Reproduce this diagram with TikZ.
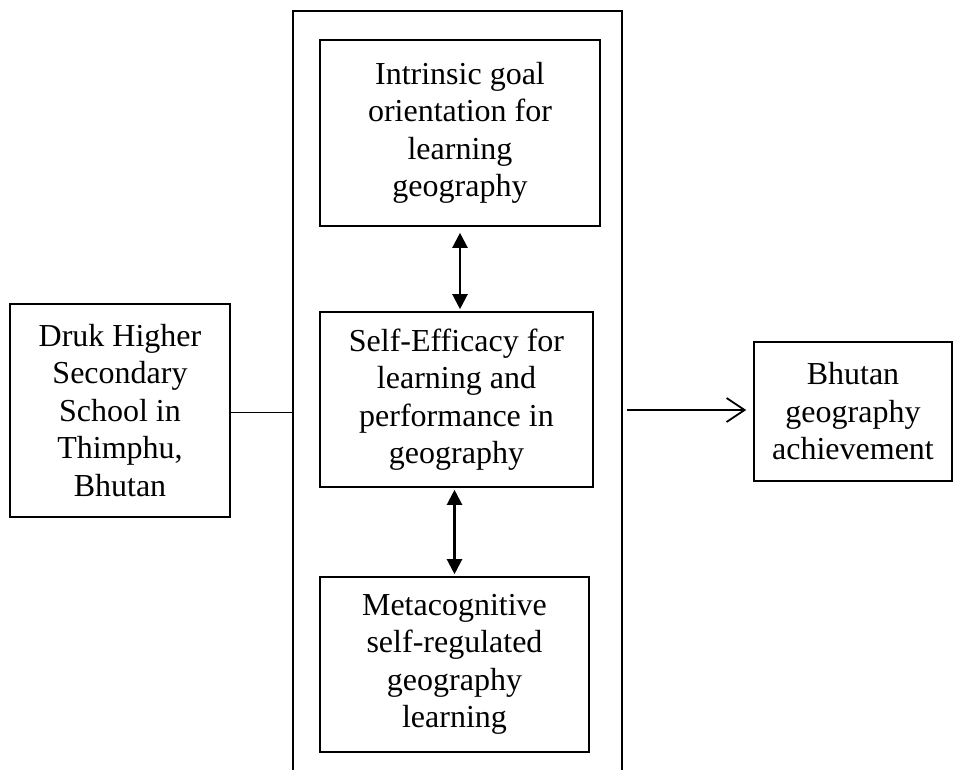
\documentclass[tikz,border=0pt]{standalone}
\usepackage{fontspec}
\setmainfont{Liberation Serif}
\usetikzlibrary{arrows.meta}
\tikzset{
  box/.style={draw, line width=1.6pt, inner sep=0pt, align=center,
    font=\fontsize{32}{37.5}\selectfont},
  dbl/.style={line width=2.2pt, {Triangle[width=15pt,length=15pt]}-{Triangle[width=15pt,length=15pt]}},
  thinline/.style={line width=1pt},
  openarrow/.style={line width=1.8pt, -{Straight Barb[length=18pt,width=24pt,line width=1.8pt]}}
}
\begin{document}
\begin{tikzpicture}[x=1pt,y=-1pt]
\useasboundingbox (0,0) rectangle (954,770);
\clip (0,0) rectangle (954,770);
\node[box, minimum width=329pt, minimum height=789pt] (outer) at (457.5,405.5) {};
\node[box, minimum width=280pt, minimum height=186pt] (top) at (460,133) {Intrinsic goal\\orientation for\\learning\\geography};
\node[box, minimum width=273pt, minimum height=175pt] (mid) at (456.5,399.5) {Self-Efficacy for\\learning and\\performance in\\geography};
\node[box, minimum width=269pt, minimum height=175pt] (bot) at (454.5,664.5) {Metacognitive\\self-regulated\\geography\\learning};
\node[box, minimum width=220pt, minimum height=213pt] (left) at (120,410.5) {Druk Higher\\Secondary\\School in\\Thimphu,\\Bhutan};
\node[box, minimum width=198pt, minimum height=139pt] (right) at (853,411.5) {Bhutan\\geography\\achievement};
\draw[thinline] (left.east |- 0,412) -- (outer.west |- 0,412);
\draw[dbl, shorten <=6pt, shorten >=2pt] (top.south) -- (top.south |- mid.north);
\draw[dbl, shorten <=2pt, shorten >=2pt] (bot.north) -- (bot.north |- mid.south);
\draw[openarrow, shorten <=4pt, shorten >=7pt] (outer.east |- 0,410) -- (right.west |- 0,410);
\end{tikzpicture}
\end{document}
